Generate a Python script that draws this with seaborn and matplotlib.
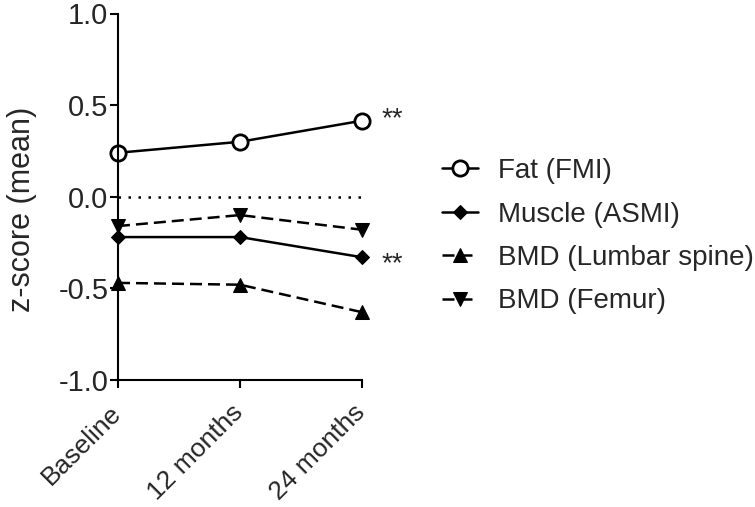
import matplotlib
matplotlib.use("Agg")
import matplotlib.pyplot as plt
import matplotlib.transforms as mtransforms
import seaborn as sns
import pandas as pd
from matplotlib.ticker import FormatStrFormatter

timepoints = ["Baseline", "12 months", "24 months"]
fat_fmi = [0.24, 0.30, 0.415]
muscle_asmi = [-0.22, -0.22, -0.33]
bmd_lumbar = [-0.47, -0.48, -0.63]
bmd_femur = [-0.16, -0.10, -0.18]
series_labels = ["Fat (FMI)", "Muscle (ASMI)", "BMD (Lumbar spine)", "BMD (Femur)"]
yticks = [-1.0, -0.5, 0.0, 0.5, 1.0]

sns.set_style("ticks")
plt.rcParams["font.family"] = ["Liberation Sans", "DejaVu Sans"]
plt.rcParams["axes.unicode_minus"] = False

fig = plt.figure(figsize=(7.55, 5.07), dpi=100)
ax = fig.add_axes([118 / 755, 1 - 380 / 507, (362 - 118) / 755, (380 - 13.5) / 507])

xpos = list(range(len(timepoints)))
dash = (0, (4.8, 2.4))
specs = [
    (fat_fmi, dict(marker="o", markersize=11, markerfacecolor="white", markeredgewidth=2, linestyle="-")),
    (muscle_asmi, dict(marker="D", markersize=7, markerfacecolor="black", linestyle="-")),
    (bmd_lumbar, dict(marker="^", markersize=10, markerfacecolor="black", linestyle=dash)),
    (bmd_femur, dict(marker="v", markersize=10, markerfacecolor="black", linestyle=dash)),
]
handles = []
for (vals, kw), lab in zip(specs, series_labels):
    df = pd.DataFrame({"x": xpos, "z": vals})
    sns.lineplot(data=df, x="x", y="z", ax=ax, color="black", linewidth=1.8,
                 markeredgecolor="black", clip_on=False, legend=False, label=lab, **kw)
    handles.append(ax.get_lines()[-1])

ax.axhline(0, color="black", linewidth=1.8, linestyle=(0, (1, 3)), zorder=1)

ax.set_xlim(0, 2)
ax.set_ylim(-1.0, 1.0)
ax.set_yticks(yticks)
ax.yaxis.set_major_formatter(FormatStrFormatter("%.1f"))
ax.set_xticks(xpos)
ax.set_xticklabels(timepoints, rotation=45, ha="right", va="top", rotation_mode="anchor")
ax.set_xlabel("")
ax.set_ylabel("z-score (mean)", fontsize=22)
ax.yaxis.set_label_coords(-0.33, 0.465)
ax.tick_params(axis="both", width=1.5, length=6, color="black")
ax.tick_params(axis="y", labelsize=21, pad=1)
ax.tick_params(axis="x", labelsize=19, pad=6)
offset = mtransforms.ScaledTranslation(-0.09, -0.04, fig.dpi_scale_trans)
for lbl in ax.get_xticklabels():
    lbl.set_transform(lbl.get_transform() + offset)
for s in ["left", "bottom"]:
    ax.spines[s].set_linewidth(1.5)
    ax.spines[s].set_color("black")
sns.despine(ax=ax)

ax.annotate("**", xy=(2, fat_fmi[2]), xytext=(14, 1), textcoords="offset points",
            va="center", ha="left", fontsize=20, annotation_clip=False)
ax.annotate("**", xy=(2, muscle_asmi[2]), xytext=(14, -5), textcoords="offset points",
            va="center", ha="left", fontsize=20, annotation_clip=False)

fig.legend(handles, series_labels, loc="upper left", bbox_to_anchor=(442 / 755, 1 - 158 / 507),
           frameon=False, fontsize=20, handlelength=1.3, handletextpad=0.7,
           labelspacing=0.63, borderpad=0, borderaxespad=0)

fig.savefig("out.png", dpi=100)
